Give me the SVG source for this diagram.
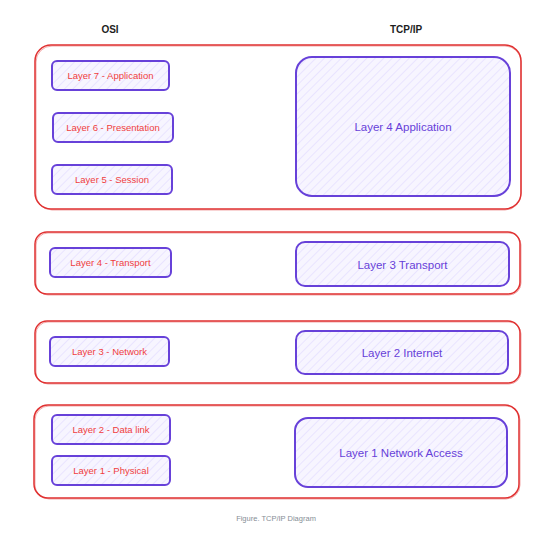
<svg xmlns="http://www.w3.org/2000/svg" width="559" height="537" viewBox="0 0 559 537">
<style>
.grp{fill:none;stroke:#e03131;stroke-width:1.5}
.grp2{fill:none;stroke:#e03131;stroke-width:0.7;opacity:0.6}
.box{fill:url(#hatch);stroke:#6741d9;stroke-width:2}
.osi{font-family:"Liberation Sans",Arial,sans-serif;font-size:9.5px;fill:#f03e3e;text-anchor:middle;dominant-baseline:central}
.tcp{font-family:"Liberation Sans",Arial,sans-serif;font-size:11.5px;fill:#6741d9;text-anchor:middle;dominant-baseline:central}
.hdr{font-family:"Liberation Sans",Arial,sans-serif;font-size:10px;font-weight:bold;fill:#1e1e1e;text-anchor:middle;dominant-baseline:central}
.cap{font-family:"Liberation Sans",Arial,sans-serif;font-size:7.5px;fill:#868e96;text-anchor:middle;dominant-baseline:central}
</style>
<defs>
<pattern id="hatch" width="6" height="6" patternUnits="userSpaceOnUse" patternTransform="rotate(45)">
<rect width="6" height="6" fill="#f7f5ff"/>
<line x1="0" y1="0" x2="0" y2="6" stroke="#dcd3ff" stroke-width="1"/>
</pattern>
</defs>
<rect width="559" height="537" fill="#ffffff"/>
<text class="hdr" x="110" y="29">OSI</text>
<text class="hdr" x="406" y="29">TCP/IP</text>
<g id="group-upper">
<rect class="grp" x="35" y="45" width="486" height="164" rx="16"/>
<rect class="grp2" x="36" y="46" width="485" height="164" rx="16"/>
</g>
<g id="group-transport">
<rect class="grp" x="35" y="232" width="485" height="62" rx="12"/>
<rect class="grp2" x="36" y="233" width="485" height="62" rx="12"/>
</g>
<g id="group-network">
<rect class="grp" x="35" y="321" width="485" height="62" rx="12"/>
<rect class="grp2" x="36" y="322" width="485" height="62" rx="12"/>
</g>
<g id="group-link">
<rect class="grp" x="34" y="405" width="485" height="93" rx="14"/>
<rect class="grp2" x="35" y="406" width="485" height="93" rx="14"/>
</g>
<g id="osi7"><rect class="box" x="52" y="61" width="117" height="29" rx="5"/><text class="osi" x="110.5" y="75.5">Layer 7 - Application</text></g>
<g id="osi6"><rect class="box" x="53" y="113" width="120" height="29" rx="5"/><text class="osi" x="113" y="127.5">Layer 6 - Presentation</text></g>
<g id="osi5"><rect class="box" x="52" y="165" width="120" height="29" rx="5"/><text class="osi" x="112" y="179.5">Layer 5 - Session</text></g>
<g id="osi4"><rect class="box" x="50" y="248" width="121" height="29" rx="5"/><text class="osi" x="110.5" y="262.5">Layer 4 - Transport</text></g>
<g id="osi3"><rect class="box" x="50" y="337" width="119" height="29" rx="5"/><text class="osi" x="109.5" y="351.5">Layer 3 - Network</text></g>
<g id="osi2"><rect class="box" x="52" y="415" width="118" height="29" rx="5"/><text class="osi" x="111" y="429.5">Layer 2 - Data link</text></g>
<g id="osi1"><rect class="box" x="52" y="456" width="118" height="29" rx="5"/><text class="osi" x="111" y="470.5">Layer 1 - Physical</text></g>
<g id="tcp4"><rect class="box" x="296" y="57" width="214" height="139" rx="16"/><text class="tcp" x="403" y="126.5">Layer 4 Application</text></g>
<g id="tcp3"><rect class="box" x="296" y="242" width="213" height="44" rx="9"/><text class="tcp" x="402.5" y="264.5">Layer 3 Transport</text></g>
<g id="tcp2"><rect class="box" x="296" y="331" width="212" height="43" rx="9"/><text class="tcp" x="402" y="352.5">Layer 2 Internet</text></g>
<g id="tcp1"><rect class="box" x="295" y="418" width="212" height="69" rx="13"/><text class="tcp" x="401" y="452.5">Layer 1 Network Access</text></g>
<g id="connectors"></g>
<text class="cap" x="276" y="518">Figure. TCP/IP Diagram</text>
</svg>
